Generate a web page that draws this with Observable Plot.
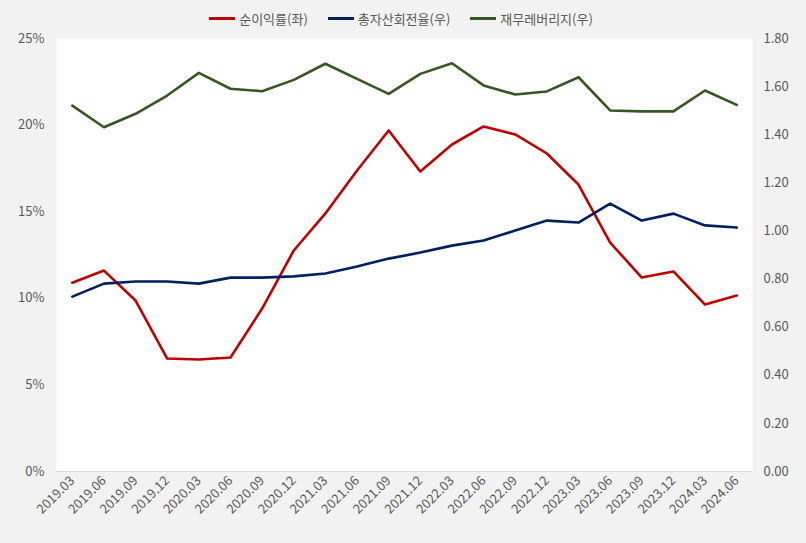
<!DOCTYPE html>
<html>
<head>
<meta charset="utf-8">
<script src="https://cdn.jsdelivr.net/npm/d3@7"></script>
<script src="https://cdn.jsdelivr.net/npm/@observablehq/plot@0.6"></script>
<style>
  html, body { margin: 0; padding: 0; background: #f2f2f2; }
  body { width: 806px; height: 543px; overflow: hidden; position: relative; font-family: "Noto Sans CJK KR", "Noto Sans", sans-serif; }
  #legend { position: absolute; left: 0; top: 0; width: 806px; height: 37px; display: flex; justify-content: center; align-items: center; gap: 20px; font-size: 13px; color: #595959; padding-right: 4px; box-sizing: border-box; z-index: 2; }
  .item { display: flex; align-items: center; gap: 4px; }
  .sw { width: 26px; height: 3px; display: inline-block; }
  #chart svg { display: block; }
</style>
</head>
<body>
<div id="legend"></div>
<div id="chart"></div>
<script>
const periods = ["2019.03","2019.06","2019.09","2019.12","2020.03","2020.06","2020.09","2020.12","2021.03","2021.06","2021.09","2021.12","2022.03","2022.06","2022.09","2022.12","2023.03","2023.06","2023.09","2023.12","2024.03","2024.06"];
const netMargin = [10.9, 11.6, 9.87, 6.52, 6.47, 6.58, 9.41, 12.76, 14.9, 17.38, 19.69, 17.32, 18.88, 19.92, 19.46, 18.36, 16.57, 13.22, 11.2, 11.55, 9.64, 10.16];
const assetTurnover = [0.727, 0.781, 0.790, 0.790, 0.781, 0.806, 0.806, 0.811, 0.823, 0.852, 0.885, 0.910, 0.939, 0.960, 1.002, 1.043, 1.035, 1.114, 1.043, 1.072, 1.023, 1.014];
const leverage = [1.521, 1.431, 1.487, 1.563, 1.657, 1.591, 1.581, 1.628, 1.695, 1.632, 1.570, 1.653, 1.697, 1.605, 1.567, 1.580, 1.639, 1.501, 1.497, 1.497, 1.584, 1.524];
const leftTicks = [0, 5, 10, 15, 20, 25];
const rightTicks = [0, 0.2, 0.4, 0.6, 0.8, 1.0, 1.2, 1.4, 1.6, 1.8];
const seriesNames = ["순이익률(좌)", "총자산회전율(우)", "재무레버리지(우)"];
const colors = ["#C00000", "#002060", "#375623"];

const k = 25 / 1.8; // right-axis value -> left scale
const rows = [];
periods.forEach((p, i) => {
  rows.push({period: p, series: seriesNames[0], y: netMargin[i]});
  rows.push({period: p, series: seriesNames[1], y: assetTurnover[i] * k});
  rows.push({period: p, series: seriesNames[2], y: leverage[i] * k});
});

const legend = document.getElementById("legend");
seriesNames.forEach((n, i) => {
  const it = document.createElement("div");
  it.className = "item";
  it.innerHTML = `<span class="sw" style="background:${colors[i]}"></span><span>${n}</span>`;
  legend.appendChild(it);
});

const chart = Plot.plot({
  width: 806,
  height: 543,
  marginLeft: 56,
  marginRight: 54,
  marginTop: 38,
  marginBottom: 72,
  style: {background: "transparent", fontFamily: "'Noto Sans CJK KR', 'Noto Sans', sans-serif", fontSize: "13px", color: "#595959"},
  x: {type: "band", domain: periods, padding: 0, round: false},
  y: {domain: [0, 25]},
  color: {domain: seriesNames, range: colors},
  marks: [
    Plot.frame({fill: "white", stroke: "none"}),
    Plot.ruleY([0], {stroke: "#d9d9d9", strokeWidth: 1}),
    Plot.axisY({anchor: "left", ticks: leftTicks, tickSize: 0, tickPadding: 12, tickFormat: d => d + "%", label: null, fill: "#595959"}),
    Plot.axisY({anchor: "right", ticks: rightTicks.map(t => t * k), tickSize: 0, tickPadding: 11, tickFormat: d => (d / k).toFixed(2), label: null, fill: "#595959", textAnchor: "start"}),
    Plot.axisX({tickRotate: -45, tickSize: 0, tickPadding: 7, label: null, fill: "#595959"}),
    Plot.lineY(rows, {x: "period", y: "y", z: "series", stroke: "series", strokeWidth: 2.6})
  ]
});
document.getElementById("chart").appendChild(chart);
</script>
</body>
</html>
